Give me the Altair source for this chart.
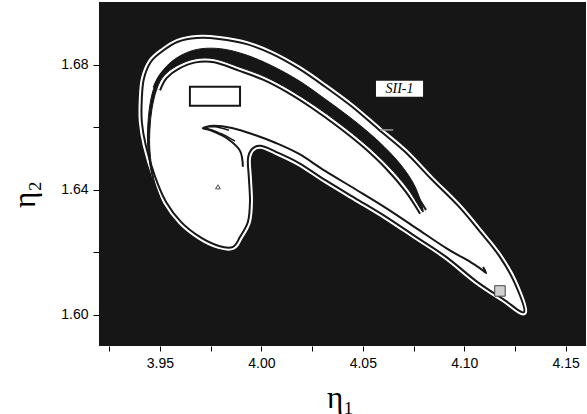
import altair as alt
import pandas as pd

# ---- data (eta1, eta2) ----
outer_x = [3.9411, 3.9421, 3.9456, 3.9515, 3.9589, 3.9682, 3.9791, 3.9924, 4.0052, 4.0186,
           4.0314, 4.0447, 4.0575, 4.0708, 4.0837, 4.0970, 4.1078, 4.1172, 4.1246, 4.1295,
           4.1192, 4.1064, 4.0911, 4.0763, 4.0615, 4.0462, 4.0314, 4.0186, 4.0072, 3.9998,
           3.9954, 3.9934, 3.9939, 3.9944, 3.9934, 3.9895, 3.9860, 3.9791, 3.9697, 3.9604,
           3.9530, 3.9475, 3.9431, 3.9411]
outer_y = [1.6690, 1.6754, 1.6809, 1.6844, 1.6873, 1.6885, 1.6882, 1.6866, 1.6834, 1.6786,
           1.6729, 1.6665, 1.6594, 1.6521, 1.6434, 1.6348, 1.6265, 1.6188, 1.6105, 1.6009,
           1.6050, 1.6105, 1.6185, 1.6249, 1.6313, 1.6373, 1.6431, 1.6485, 1.6521, 1.6540,
           1.6530, 1.6498, 1.6434, 1.6361, 1.6297, 1.6249, 1.6217, 1.6220, 1.6249, 1.6297,
           1.6361, 1.6444, 1.6540, 1.6617]

band_x = [3.9510, 3.9465, 3.9441, 3.9441, 3.9456, 3.9485, 3.9535, 3.9609, 3.9697, 3.9806,
          3.9924, 4.0052, 4.0186, 4.0314, 4.0447, 4.0575, 4.0684, 4.0758, 4.0797,
          4.0723, 4.0625, 4.0511, 4.0388, 4.0264, 4.0141, 4.0018, 3.9895, 3.9771, 3.9673,
          3.9584, 3.9520, 3.9485, 3.9461, 3.9451, 3.9451, 3.9470, 3.9515]
band_y = [1.6354, 1.6434, 1.6530, 1.6610, 1.6690, 1.6748, 1.6796, 1.6831, 1.6850, 1.6850,
          1.6831, 1.6796, 1.6748, 1.6690, 1.6626, 1.6556, 1.6482, 1.6409, 1.6329,
          1.6402, 1.6476, 1.6546, 1.6610, 1.6668, 1.6719, 1.6761, 1.6791, 1.6818, 1.6818,
          1.6796, 1.6764, 1.6722, 1.6658, 1.6594, 1.6524, 1.6434, 1.6351]
band_ring_from, band_ring_to = 18, 32   # lower edge of the band that carries a thin line

tongue_x = [3.9909, 3.9895, 3.9835, 3.9756, 3.9712, 3.9766, 3.9855, 3.9954, 4.0072, 4.0186,
            4.0314, 4.0462, 4.0615, 4.0763, 4.0911, 4.1029, 4.1083, 4.1108, 4.1093]
tongue_y = [1.6473, 1.6524, 1.6562, 1.6588, 1.6597, 1.6604, 1.6597, 1.6578, 1.6549, 1.6514,
            1.6460, 1.6402, 1.6341, 1.6277, 1.6213, 1.6169, 1.6146, 1.6133, 1.6153]
tongue2_x = [3.9870, 3.9815, 3.9760, 3.9725, 3.9770, 3.9840]
tongue2_y = [1.6555, 1.6575, 1.6590, 1.6598, 1.6601, 1.6590]

box_x = [3.9648, 3.9895]
box_y = [1.6729, 1.6668]
label_box_x = [4.0565, 4.0797]
label_box_y = [1.6748, 1.6697]
label_text = ["SII-1"]
marker_x = [3.9786]
marker_y = [1.6409]
tip_x = [4.1176]
tip_y = [1.6076]
dash_x = [4.0585, 4.0650]
dash_y = [1.6591]

x_ticks = [3.925, 3.95, 3.975, 4.00, 4.025, 4.05, 4.075, 4.10, 4.125, 4.15]
y_ticks = [1.60, 1.62, 1.64, 1.66, 1.68]


def path(xs, ys):
    return pd.DataFrame({"x": xs, "y": ys, "i": list(range(len(xs)))})


outer = path(outer_x, outer_y)
band = path(band_x, band_y)
band_lower = path(band_x[band_ring_from:band_ring_to], band_y[band_ring_from:band_ring_to])
tongue = path(tongue_x, tongue_y)
tongue2 = path(tongue2_x, tongue2_y)

xs = alt.Scale(domain=[3.92, 4.16], nice=False, zero=False)
ys = alt.Scale(domain=[1.59, 1.70], nice=False, zero=False)

xaxis = alt.Axis(values=x_ticks,
                 labelExpr="abs(datum.value*20 - round(datum.value*20)) < 0.001 ? format(datum.value, '.2f') : ''",
                 tickSize=5, tickColor="black", labelPadding=5, labelFontSize=14,
                 labelFont="Liberation Sans", labelColor="black", labelOverlap=False, labelFlush=False,
                 titleFont="Liberation Serif", titleFontSize=31, titleFontWeight="normal", titleColor="black",
                 titleX=241, titleY=52, titleBaseline="middle", titleAlign="center",
                 grid=False, domain=False)
yaxis = alt.Axis(values=y_ticks,
                 labelExpr="abs(datum.value*25 - round(datum.value*25)) < 0.001 ? format(datum.value, '.2f') : ''",
                 tickSize=6, tickColor="black", labelPadding=5, labelFontSize=14,
                 labelFont="Liberation Sans", labelColor="black", labelOverlap=False, labelFlush=False,
                 titleFont="Liberation Serif", titleFontSize=31, titleFontWeight="normal", titleColor="black",
                 titleX=-74, titleY=192, titleAngle=270, titleBaseline="middle", titleAlign="center",
                 grid=False, domain=False)

X = alt.X("x:Q", scale=xs, axis=xaxis, title="η₁")
Y = alt.Y("y:Q", scale=ys, axis=yaxis, title="η₂")
DARK = "#161616"

outer_fill = alt.Chart(outer).mark_line(color="white", fill="white", strokeWidth=6,
                                        interpolate="cardinal-closed", clip=True).encode(x=X, y=Y, order="i:Q")
outer_line = alt.Chart(outer).mark_line(color=DARK, strokeWidth=2,
                                        interpolate="cardinal-closed", clip=True).encode(x=X, y=Y, order="i:Q")
band_ring = alt.Chart(band_lower).mark_line(color=DARK, strokeWidth=9,
                                            interpolate="cardinal", clip=True).encode(x=X, y=Y, order="i:Q")
band_ring_w = alt.Chart(band_lower).mark_line(color="white", strokeWidth=5,
                                              interpolate="cardinal", clip=True).encode(x=X, y=Y, order="i:Q")
band_fill = alt.Chart(band).mark_line(color=DARK, fill=DARK, strokeWidth=1,
                                      interpolate="cardinal-closed", clip=True).encode(x=X, y=Y, order="i:Q")
tongue_line = alt.Chart(tongue).mark_line(color=DARK, strokeWidth=2,
                                          interpolate="cardinal", clip=True).encode(x=X, y=Y, order="i:Q")
tongue2_line = alt.Chart(tongue2).mark_line(color=DARK, strokeWidth=1.5,
                                            interpolate="cardinal", clip=True).encode(x=X, y=Y, order="i:Q")

box = alt.Chart(pd.DataFrame({"x": [box_x[0]], "x2": [box_x[1]], "y": [box_y[0]], "y2": [box_y[1]]})).mark_rect(
    fill="white", stroke=DARK, strokeWidth=2).encode(x=X, x2="x2", y=Y, y2="y2")
lbox = alt.Chart(pd.DataFrame({"x": [label_box_x[0]], "x2": [label_box_x[1]],
                               "y": [label_box_y[0]], "y2": [label_box_y[1]]})).mark_rect(
    fill="white").encode(x=X, x2="x2", y=Y, y2="y2")
ltext = alt.Chart(pd.DataFrame({"x": [(label_box_x[0] + label_box_x[1]) / 2],
                                "y": [(label_box_y[0] + label_box_y[1]) / 2], "t": label_text})).mark_text(
    font="Liberation Serif", fontStyle="italic", fontSize=14, color="black", baseline="middle").encode(
    x=X, y=Y, text="t:N")
marker = alt.Chart(pd.DataFrame({"x": marker_x, "y": marker_y})).mark_point(
    shape="triangle-up", size=22, filled=False, color="black", strokeWidth=1).encode(x=X, y=Y)
tipmark = alt.Chart(pd.DataFrame({"x": tip_x, "y": tip_y})).mark_point(
    shape="square", size=110, filled=True, fill="#cfcfcf", stroke="#444444", strokeWidth=1, opacity=1).encode(x=X, y=Y)
dash = alt.Chart(pd.DataFrame({"x": [dash_x[0]], "x2": [dash_x[1]], "y": dash_y})).mark_rule(
    color="#9a9a9a", strokeWidth=1.5).encode(x=X, x2="x2", y=Y)

chart = alt.layer(outer_fill, outer_line, band_ring, band_ring_w, band_fill, tongue_line, tongue2_line,
                  box, lbox, ltext, marker, tipmark, dash).properties(
    width=487, height=344, autosize="none",
    padding={"left": 99, "top": 2, "right": 1, "bottom": 68},
    background="white"
).configure_view(fill=DARK, strokeWidth=0)

chart.save("out.html", embed_options={"renderer": "svg", "actions": False})
